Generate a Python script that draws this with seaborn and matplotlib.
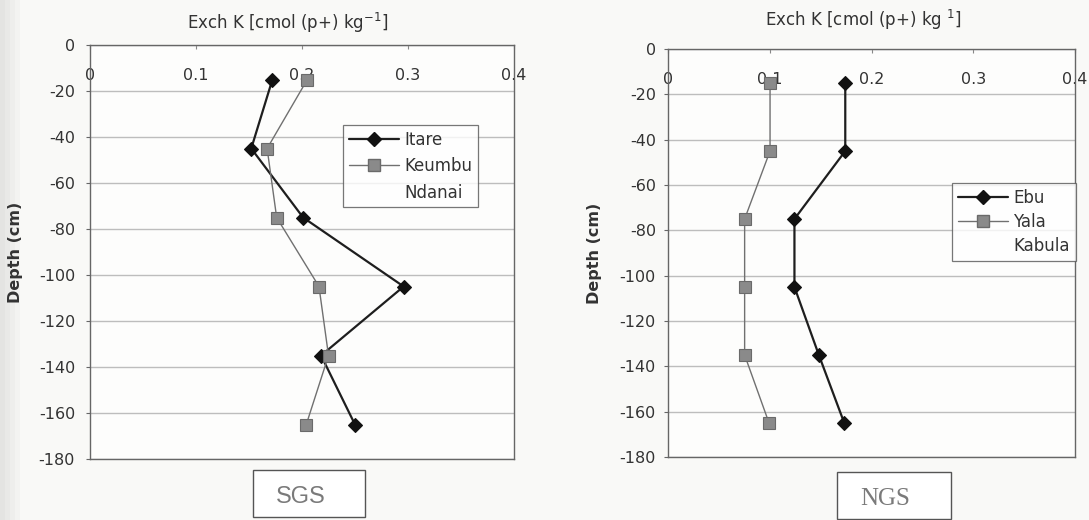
import matplotlib
matplotlib.use("Agg")
import matplotlib.pyplot as plt
from matplotlib.lines import Line2D
from matplotlib.patches import Rectangle
import seaborn as sns
import pandas as pd

# ---- data ----
depth = [-15, -45, -75, -105, -135, -165]
itare = [0.172, 0.152, 0.201, 0.296, 0.218, 0.250]
keumbu = [0.205, 0.167, 0.176, 0.216, 0.225, 0.204]
ebu = [0.174, 0.174, 0.124, 0.124, 0.148, 0.173]
yala = [0.100, 0.100, 0.075, 0.075, 0.075, 0.099]
x_ticks = [0, 0.1, 0.2, 0.3, 0.4]
x_tick_labels = ["0", "0.1", "0.2", "0.3", "0.4"]
y_ticks = [0, -20, -40, -60, -80, -100, -120, -140, -160, -180]
left_names = ["Itare", "Keumbu", "Ndanai"]
right_names = ["Ebu", "Yala", "Kabula"]

sns.set_theme(style="white")
plt.rcParams["font.family"] = ["DejaVu Sans"]
plt.rcParams["axes.unicode_minus"] = False

fig = plt.figure(figsize=(10.89, 5.2), dpi=100)
fig.patch.set_facecolor("#f9f9f7")

W, H = 1089.0, 520.0

# soft scan shadow at the left edge
for i, c in enumerate(["#e4e4e2", "#e9e9e7", "#eeeeec", "#f3f3f1"]):
    fig.add_artist(Rectangle((i * 5 / W, 0), 5 / W, 1, transform=fig.transFigure,
                             facecolor=c, edgecolor="none", zorder=0))

def axes_px(l, r, t, b):
    return fig.add_axes([l / W, 1 - b / H, (r - l) / W, (b - t) / H])

axL = axes_px(90.4, 513.7, 45, 459)
axR = axes_px(668.4, 1075, 49, 457)

dark = "#1e1e1e"
grey_line = "#707070"
grey_mark = "#8a8a8a"
text_col = "#333333"

def style_axes(ax, ypad, label_x):
    ax.set_facecolor("#fdfdfc")
    ax.set_xlim(0, 0.4)
    ax.set_ylim(-180, 0)
    ax.set_xticks(x_ticks)
    ax.set_xticklabels(x_tick_labels)
    ax.set_yticks(y_ticks)
    ax.set_yticklabels([str(v) for v in y_ticks])
    ax.xaxis.set_ticks_position("top")
    ax.tick_params(axis="x", top=True, bottom=False, labeltop=True, labelbottom=False,
                   direction="in", length=3, width=0.8, color="#888888",
                   pad=-27, labelsize=11.5, labelcolor=text_col)
    ax.tick_params(axis="y", left=True, direction="out", length=3, width=0.8,
                   color="#666666", pad=ypad, labelsize=11.5, labelcolor=text_col)
    ax.yaxis.grid(True, color="#bdbdbd", linewidth=1.0)
    ax.xaxis.grid(False)
    ax.set_axisbelow(True)
    for sp in ax.spines.values():
        sp.set_color("#666666")
        sp.set_linewidth(1.0)
    ax.set_xlabel("")
    ax.set_ylabel("Depth (cm)", fontsize=11.5, fontweight="bold", color=text_col)
    ax.yaxis.set_label_coords(label_x, 0.5)

def draw(ax, xs, color, mcolor, marker, ms, lw, mec):
    df = pd.DataFrame({"x": xs, "y": depth})
    sns.lineplot(data=df, x="x", y="y", orient="y", sort=False, ax=ax, color=color,
                 linewidth=lw, marker=marker, markersize=ms, markerfacecolor=mcolor,
                 markeredgecolor=mec, markeredgewidth=0.8, legend=False, zorder=3)

draw(axL, itare, dark, "#111111", "D", 7.5, 1.6, "#111111")
draw(axL, keumbu, grey_line, grey_mark, "s", 8.5, 1.0, "#6a6a6a")
draw(axR, ebu, dark, "#111111", "D", 7.5, 1.6, "#111111")
draw(axR, yala, grey_line, grey_mark, "s", 8.5, 1.0, "#6a6a6a")

style_axes(axL, 8, -0.159)
style_axes(axR, 6, -0.163)

fig.text(287.5 / W, 1 - 23 / H, "Exch K [cmol (p+) kg$^{\\mathregular{-1}}$]",
         ha="center", va="center", fontsize=12, color=text_col)
fig.text(863 / W, 1 - 20 / H, "Exch K [cmol (p+) kg $^{\\mathregular{1}}$]",
         ha="center", va="center", fontsize=12, color=text_col)

def make_handles(names):
    return [
        Line2D([], [], color=dark, lw=1.6, marker="D", ms=7.5, mfc="#111111", mec="#111111", label=names[0]),
        Line2D([], [], color=grey_line, lw=1.0, marker="s", ms=8.5, mfc=grey_mark, mec="#6a6a6a", label=names[1]),
        Line2D([], [], color="none", lw=0, label=names[2]),
    ]

for names, anchor, ls in [(left_names, (342.7, 125), 0.5), (right_names, (951.7, 183.3), 0.35)]:
    leg = fig.legend(handles=make_handles(names), loc="upper left",
                     bbox_to_anchor=(anchor[0] / W, 1 - anchor[1] / H),
                     bbox_transform=fig.transFigure, frameon=True, fancybox=False,
                     fontsize=12, handlelength=3.0, handletextpad=0.35,
                     labelspacing=ls, borderpad=0.35, borderaxespad=0)
    leg.get_frame().set_edgecolor("#555555")
    leg.get_frame().set_linewidth(0.9)
    leg.get_frame().set_facecolor("white")
    for t in leg.get_texts():
        t.set_color(text_col)

# label boxes below each panel
def label_box(l, r, t, b, text, family, size, tx, ty):
    rect = Rectangle((l / W, 1 - b / H), (r - l) / W, (b - t) / H, transform=fig.transFigure,
                     facecolor="white", edgecolor="#555555", linewidth=1.0)
    fig.add_artist(rect)
    fig.text(tx / W, 1 - ty / H, text, ha="center", va="center", fontsize=size,
             color="#7a7a7a", family=family)

label_box(252.7, 365, 470, 517, "SGS", ["Liberation Sans", "DejaVu Sans"], 17, 301, 497)
label_box(837, 950.7, 472, 519, "NGS", ["Liberation Serif", "DejaVu Serif"], 18, 885, 499)

fig.savefig("out.png", dpi=100, facecolor=fig.get_facecolor())
